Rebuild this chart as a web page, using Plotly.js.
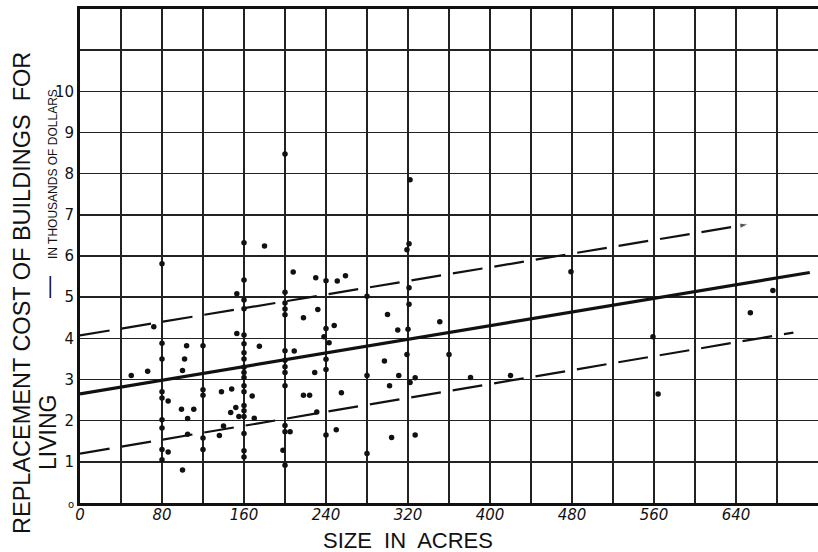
<!DOCTYPE html>
<html>
<head>
<meta charset="utf-8">
<script src="https://cdn.plot.ly/plotly-3.0.1.min.js"></script>
<style>html,body{margin:0;padding:0;background:#fff;}#chart{width:818px;height:552px;}</style>
</head>
<body>
<div id="chart"></div>
<script>
// Farm size (acres) and replacement cost of buildings for living (thousand $)
var farmAcres = [
  80,80,80,80,80,80,80,80,80,86,86,
  100,102,104,99,111,105,105,100,
  120,120,120,120,120,
  50,66,72,
  138,148,147,152,155,140,136,153,153,
  160,160,160,160,160,160,160,160,160,160,160,160,160,160,160,160,160,160,160,
  168,170,175,180,
  200,200,200,200,200,200,200,200,200,200,200,200,198,200,
  205,209,208,218,218,224,230,232,229,231,
  240,240,238,243,240,240,240,248,250,251,259,255,
  280,280,280,
  300,297,302,304,310,311,
  322,321,319,321,321,320,319,322,327,327,
  351,360,381,420,479,559,564,654,676
];
var buildingCost = [
  5.81,3.88,3.5,2.7,2.55,2.02,1.82,1.3,1.05,1.24,2.48,
  3.22,3.5,3.82,2.28,2.28,2.05,1.67,0.8,
  3.82,2.75,2.62,1.58,1.3,
  3.1,3.2,4.28,
  2.7,2.77,2.2,2.32,2.1,1.87,1.64,5.08,4.12,
  6.32,5.42,4.93,4.72,4.08,3.87,3.65,3.5,3.3,3.17,3.05,2.85,2.7,2.37,2.24,2.1,1.69,1.27,1.12,
  2.6,2.06,3.81,6.24,
  8.48,5.12,4.86,4.71,4.57,3.7,3.47,3.31,3.17,2.85,1.88,1.73,1.28,0.92,
  1.73,3.69,5.61,4.5,2.62,2.62,5.47,4.7,3.17,2.21,
  5.4,4.24,4.04,3.89,3.49,3.24,1.65,4.31,1.78,5.39,5.52,2.68,
  5.02,3.1,1.2,
  4.58,3.45,2.85,1.59,4.2,3.1,
  7.85,6.3,6.15,5.23,4.83,4.22,3.61,2.93,3.04,1.65,
  4.4,3.61,3.05,3.1,5.62,4.04,2.65,4.62,5.16
];
// Fitted line and dashed band end points
var fitX = [0, 712];
var fitY = [2.65, 5.6];
var upperX = [0, 652];
var upperY = [4.07, 6.77];
var lowerX = [0, 696];
var lowerY = [1.2, 4.14];

var xTickVals = [0,40,80,120,160,200,240,280,320,360,400,440,480,520,560,600,640,680,720];
var xTickText = ['0','','80','','160','','240','','320','','400','','480','','560','','640','',''];
var yTickVals = [0,1,2,3,4,5,6,7,8,9,10,11,12];
var yTickText = ['<span style="font-size:10px">o</span>','1','2','3','4','5','6','7','8','9','10','',''];

var ink = '#111';
var traces = [
  {x: farmAcres, y: buildingCost, type: 'scatter', mode: 'markers',
   marker: {color: ink, size: 5.5}, cliponaxis: false, hoverinfo: 'x+y'},
  {x: fitX, y: fitY, type: 'scatter', mode: 'lines', line: {color: ink, width: 3.2}},
  {x: upperX, y: upperY, type: 'scatter', mode: 'lines+markers',
   line: {color: ink, width: 2.2, dash: '30px,12px'},
   marker: {symbol: 'arrow', angleref: 'previous', size: [0, 9], color: ink}},
  {x: lowerX, y: lowerY, type: 'scatter', mode: 'lines',
   line: {color: ink, width: 2.2, dash: '30px,12px'}}
];

var W = 738, H = 494;
function px(p){ return (p - 80) / W; }
function py(p){ return (503 - p) / H; }

var titleFont = {family: 'Liberation Sans, Arial, sans-serif', color: ink};
var layout = {
  width: 818, height: 552,
  margin: {l: 80, r: 0, t: 9, b: 49},
  paper_bgcolor: '#fff', plot_bgcolor: '#fff',
  showlegend: false,
  font: {family: 'Liberation Sans, Arial, sans-serif', color: ink},
  xaxis: {
    range: [0, 720], tickvals: xTickVals, ticktext: xTickText,
    showgrid: true, gridcolor: '#222', gridwidth: 1.5,
    zeroline: false, showline: true, linecolor: ink, linewidth: 3, mirror: true,
    ticks: '', ticklabelstandoff: -4,
    tickfont: {size: 15, style: 'italic', family: 'DejaVu Sans, sans-serif', color: ink},
    fixedrange: true
  },
  yaxis: {
    range: [0, 12], tickvals: yTickVals, ticktext: yTickText,
    showgrid: true, gridcolor: '#222', gridwidth: 1.5,
    zeroline: false, showline: true, linecolor: ink, linewidth: 3, mirror: true,
    ticks: '', tickfont: {size: 15, family: 'DejaVu Sans, sans-serif', color: ink},
    fixedrange: true
  },
  annotations: [
    {text: 'REPLACEMENT COST OF BUILDINGS  FOR', xref: 'paper', yref: 'paper',
     x: px(22), y: py(293), textangle: -90, showarrow: false,
     font: Object.assign({size: 23.5}, titleFont), xanchor: 'center', yanchor: 'middle'},
    {text: 'LIVING', xref: 'paper', yref: 'paper',
     x: px(48), y: py(433), textangle: -90, showarrow: false,
     font: Object.assign({size: 23}, titleFont), xanchor: 'center', yanchor: 'middle'},
    {text: '—', xref: 'paper', yref: 'paper',
     x: px(48), y: py(287), textangle: -90, showarrow: false,
     font: Object.assign({size: 22}, titleFont), xanchor: 'center', yanchor: 'middle'},
    {text: 'IN THOUSANDS OF DOLLARS', xref: 'paper', yref: 'paper',
     x: px(53), y: py(174), textangle: -90, showarrow: false,
     font: Object.assign({size: 12}, titleFont), xanchor: 'center', yanchor: 'middle'},
    {text: 'SIZE  IN  ACRES', xref: 'paper', yref: 'paper',
     x: px(408), y: py(540), showarrow: false,
     font: Object.assign({size: 22}, titleFont), xanchor: 'center', yanchor: 'middle'}
  ]
};

Plotly.newPlot('chart', traces, layout, {displayModeBar: false, staticPlot: true});
</script>
</body>
</html>
